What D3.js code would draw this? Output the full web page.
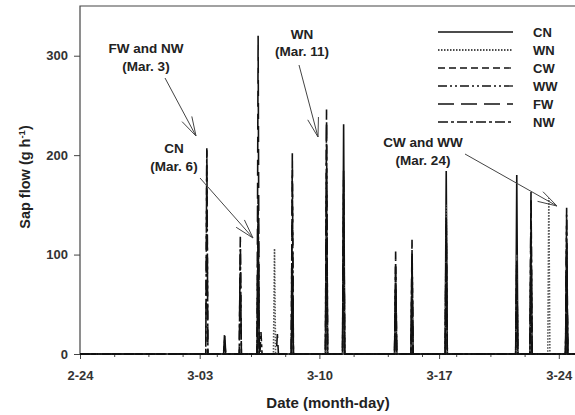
<!DOCTYPE html>
<html>
<head>
<meta charset="utf-8">
<script src="https://cdn.jsdelivr.net/npm/d3@7"></script>
<style>
  body { margin: 0; background: #fff; }
  svg { display: block; font-family: "Liberation Sans", Arial, sans-serif; }
  .tick text { font-weight: bold; font-size: 13px; fill: #333; }
</style>
</head>
<body>
<div id="chart"></div>
<script>
// spike events (month-day hour) and peak sap flow of each treatment (0 = no flow)
const spikeTimes = [
  "03-03 10:00", "03-04 11:00", "03-05 09:00", "03-06 10:00", "03-06 14:00",
  "03-07 09:00", "03-07 13:00", "03-08 10:00", "03-10 10:00", "03-11 10:00",
  "03-14 11:00", "03-15 10:00", "03-17 10:00", "03-21 13:00", "03-22 09:00",
  "03-23 10:00", "03-24 11:00"
];
const cnValues = [0, 0, 0, 135, 0, 0, 0, 90, 170, 231, 70, 85, 184, 180, 120, 0, 110];
const wnValues = [0, 0, 0, 0, 0, 106, 0, 0, 120, 150, 60, 70, 150, 100, 110, 157, 100];
const cwValues = [0, 0, 0, 0, 0, 0, 0, 0, 0, 0, 0, 0, 0, 0, 0, 0, 90];
const wwValues = [0, 0, 0, 0, 0, 0, 0, 0, 0, 0, 0, 0, 0, 0, 0, 0, 85];
const fwValues = [205, 22, 118, 320, 0, 0, 20, 202, 246, 185, 103, 115, 140, 95, 163, 0, 147];
const nwValues = [207, 14, 105, 160, 22, 0, 0, 185, 232, 175, 95, 105, 130, 90, 155, 0, 140];

const seriesNames = ["CN", "WN", "CW", "WW", "FW", "NW"];
const seriesValues = [cnValues, wnValues, cwValues, wwValues, fwValues, nwValues];
const yTicks = [0, 100, 200, 300];

// line styles of the legend
const seriesDash = [null, "1.5,1.5", "7,4", "9,3,2,3,2,3", "16,7", "10,3,3,3"];

const width = 575, height = 415;
const svg = d3.select("#chart").append("svg")
  .attr("width", width).attr("height", height);

const parse = d3.timeParse("%m-%d %H:%M");
const start = parse("02-24 00:00");
const end = d3.timeDay.offset(start, 29);

const x = d3.scaleTime().domain([start, end]).range([80, 80 + 29 * 17.1]);
const y = d3.scaleLinear().domain([0, 350]).range([354, 6]);

// axes
const majorTicks = d3.timeDay.range(start, end, 7);
const minorTicks = d3.timeDay.range(start, end, 2)
  .filter(d => !majorTicks.some(m => +m === +d));

svg.append("g")
  .attr("transform", "translate(0,354)")
  .call(d3.axisBottom(x).tickValues(minorTicks).tickSize(3).tickFormat(""))
  .call(g => g.select(".domain").remove())
  .call(g => g.selectAll("line").attr("stroke", "#444"));

svg.append("g")
  .attr("transform", "translate(0,354)")
  .call(d3.axisBottom(x).tickValues(majorTicks).tickSize(5).tickPadding(12)
    .tickFormat(d3.timeFormat("%-m-%d")))
  .call(g => g.select(".domain").remove())
  .call(g => g.selectAll("line").attr("stroke", "#444"));

svg.append("g")
  .attr("transform", "translate(80,0)")
  .call(d3.axisLeft(y).tickValues(yTicks).tickSize(6).tickPadding(6))
  .call(g => g.select(".domain").remove())
  .call(g => g.selectAll("line").attr("stroke", "#444"));

// frame: left, bottom, top
svg.append("path")
  .attr("d", `M${width},6H80V354H${width}`)
  .attr("fill", "none").attr("stroke", "#444").attr("stroke-width", 1.2);

// series lines
const line = d3.line().x(d => x(d.t)).y(d => y(d.v));

seriesValues.forEach((vals, i) => {
  const pts = [{ t: start, v: 0 }];
  spikeTimes.forEach((s, j) => {
    if (!vals[j]) return;
    const t = parse(s);
    pts.push({ t: d3.timeMinute.offset(t, -90), v: 0 });
    pts.push({ t: t, v: vals[j] });
    pts.push({ t: d3.timeMinute.offset(t, 90), v: 0 });
  });
  pts.push({ t: end, v: 0 });
  svg.append("path")
    .datum(pts)
    .attr("d", line)
    .attr("fill", "none")
    .attr("stroke", i === 1 ? "#555" : "#111")
    .attr("stroke-width", 1.6)
    .attr("stroke-dasharray", seriesDash[i]);
});

// legend
const legend = svg.append("g");
seriesNames.forEach((name, i) => {
  const ly = 32 + i * 18;
  legend.append("line")
    .attr("x1", 438).attr("x2", 513).attr("y1", ly).attr("y2", ly)
    .attr("stroke", "#111").attr("stroke-width", 1.3)
    .attr("stroke-dasharray", seriesDash[i]);
  legend.append("text")
    .attr("x", 533).attr("y", ly + 4.5)
    .attr("font-size", 13).attr("font-weight", "bold").attr("fill", "#222")
    .text(name);
});

// annotations
function note(cx, by, lines) {
  lines.forEach((s, i) => {
    svg.append("text")
      .attr("x", cx).attr("y", by + i * 17.5)
      .attr("text-anchor", "middle")
      .attr("font-size", 13.5).attr("font-weight", "bold").attr("fill", "#222")
      .text(s);
  });
}
function arrow(x1, y1, x2, y2) {
  const a = Math.atan2(y2 - y1, x2 - x1);
  const len = 20, spread = 0.28;
  const g = svg.append("g").attr("stroke", "#444").attr("stroke-width", 1).attr("fill", "none");
  g.append("line").attr("x1", x1).attr("y1", y1).attr("x2", x2).attr("y2", y2);
  [-spread, spread].forEach(o => {
    g.append("line")
      .attr("x1", x2).attr("y1", y2)
      .attr("x2", x2 - len * Math.cos(a + o))
      .attr("y2", y2 - len * Math.sin(a + o));
  });
}

note(146, 53, ["FW and NW", "(Mar. 3)"]);
arrow(165, 78, 196, 136);
note(174, 153, ["CN", "(Mar. 6)"]);
arrow(200, 178, 253, 238);
note(302, 38.5, ["WN", "(Mar. 11)"]);
arrow(299, 65, 318, 137);
note(423, 147, ["CW and WW", "(Mar. 24)"]);
arrow(465, 154, 557, 206);

// axis titles
svg.append("text")
  .attr("x", 328).attr("y", 408)
  .attr("text-anchor", "middle")
  .attr("font-size", 15).attr("font-weight", "bold").attr("fill", "#222")
  .text("Date (month-day)");

const yl = svg.append("text")
  .attr("transform", "translate(30,177) rotate(-90)")
  .attr("text-anchor", "middle")
  .attr("font-size", 14.5).attr("font-weight", "bold").attr("fill", "#222");
yl.append("tspan").text("Sap flow (g h");
yl.append("tspan").attr("dy", -5).attr("font-size", 9.5).text("-1");
yl.append("tspan").attr("dy", 5).text(")");
</script>
</body>
</html>
